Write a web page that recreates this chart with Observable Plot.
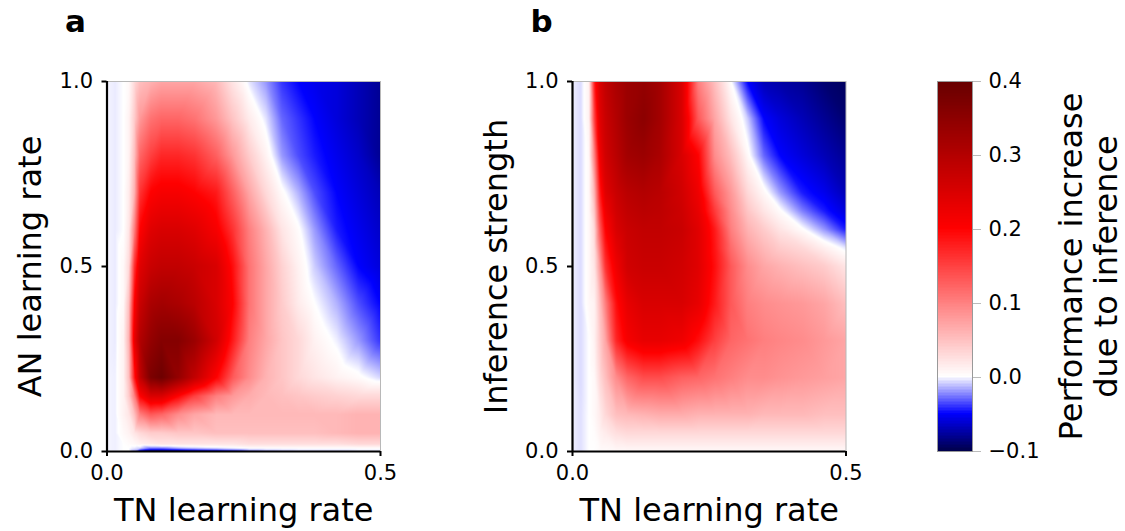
<!doctype html>
<html><head><meta charset="utf-8">
<script src="https://cdn.jsdelivr.net/npm/d3@7"></script>
<script src="https://cdn.jsdelivr.net/npm/@observablehq/plot@0.6"></script>
<style>
html,body{margin:0;padding:0;background:#fff;width:1125px;height:531px;overflow:hidden;font-family:"DejaVu Sans",sans-serif}
#root{position:relative;width:1125px;height:531px}
#root svg{position:absolute;top:0;overflow:visible;background:transparent}
</style></head><body><div id="root"></div>
<script>
const tnRates = [0,.015,.03,.04,.05,.06,.08,.1,.13,.16,.2,.23,.26,.29,.32,.35,.38,.42,.46,.5];
const anRates = [1,.9,.8,.7,.6,.5,.4,.3,.2,.15,.1,.05,.02,.008,0];
const anGrid = [
[-.002,-.004,0,.005,.03,.05,.06,.07,.07,.07,.055,.02,-.005,-.02,-.04,-.05,-.055,-.06,-.07,-.08],
[-.002,-.004,0,.01,.04,.08,.11,.12,.12,.11,.08,.045,.015,-.005,-.03,-.04,-.05,-.06,-.07,-.08],
[-.002,-.004,0,.01,.05,.12,.15,.17,.17,.16,.125,.08,.04,.01,-.02,-.035,-.045,-.055,-.065,-.08],
[-.002,-.004,0,.015,.06,.16,.2,.21,.21,.2,.18,.125,.07,.03,.003,-.015,-.035,-.05,-.06,-.07],
[-.002,-.004,0,.02,.1,.2,.24,.25,.25,.24,.21,.16,.1,.06,.02,.002,-.02,-.045,-.055,-.065],
[-.002,-.004,.005,.03,.16,.24,.27,.28,.28,.27,.25,.19,.11,.07,.035,.01,-.01,-.03,-.05,-.06],
[-.002,-.004,.005,.05,.2,.27,.31,.32,.31,.29,.25,.2,.11,.07,.04,.015,0,-.015,-.035,-.05],
[-.002,-.004,.01,.06,.23,.3,.34,.36,.36,.33,.26,.18,.1,.07,.045,.03,.01,-.003,-.02,-.04],
[-.002,-.003,.01,.05,.18,.28,.37,.39,.34,.28,.2,.13,.09,.06,.045,.03,.02,.01,.003,-.008],
[-.002,-.003,.01,.04,.1,.2,.25,.25,.2,.15,.1,.08,.065,.055,.05,.045,.04,.035,.03,.03],
[-.002,-.003,.01,.02,.05,.1,.13,.12,.09,.07,.055,.055,.055,.055,.055,.055,.055,.055,.06,.06],
[-.002,-.003,.005,.01,.02,.03,.04,.04,.045,.045,.05,.05,.05,.05,.05,.05,.05,.055,.06,.06],
[-.002,-.003,0,.003,.005,.01,.015,.02,.02,.02,.02,.02,.025,.025,.025,.025,.025,.025,.03,.03],
[-.002,-.003,0,0,-.005,-.01,-.03,-.03,-.02,-.015,-.01,-.005,0,0,0,0,0,0,0,0],
[-.002,-.003,0,0,-.02,-.06,-.09,-.09,-.08,-.07,-.06,-.05,-.03,-.02,-.015,-.01,-.01,-.01,-.005,-.005]
];
const inferenceLevels = [1,.9,.8,.7,.65,.6,.55,.5,.4,.3,.2,.1,.05,0];
const infGrid = [
[-.003,-.007,.01,.18,.25,.28,.31,.33,.34,.32,.25,.1,.05,0,-.05,-.07,-.075,-.08,-.09,-.095],
[-.003,-.007,.01,.15,.24,.27,.3,.33,.35,.32,.25,.13,.07,.02,-.01,-.05,-.06,-.07,-.08,-.09],
[-.003,-.007,.005,.1,.22,.26,.29,.32,.33,.31,.25,.2,.09,.05,.005,-.03,-.05,-.06,-.07,-.08],
[-.003,-.007,.005,.06,.18,.24,.27,.29,.3,.29,.26,.22,.13,.08,.03,.005,-.02,-.045,-.055,-.07],
[-.003,-.007,.005,.045,.155,.22,.26,.28,.29,.285,.265,.23,.155,.09,.045,.02,.002,-.025,-.045,-.06],
[-.003,-.007,.005,.03,.13,.2,.25,.27,.28,.28,.27,.24,.18,.1,.06,.04,.02,.002,-.02,-.045],
[-.003,-.007,.005,.025,.105,.18,.235,.265,.275,.275,.265,.24,.185,.115,.075,.055,.04,.03,.012,-.005],
[-.003,-.007,.005,.02,.08,.16,.22,.26,.27,.27,.26,.24,.19,.13,.09,.07,.06,.05,.04,.02],
[-.003,-.007,.005,.01,.05,.1,.19,.23,.25,.25,.25,.23,.18,.13,.1,.09,.085,.08,.07,.05],
[-.003,-.007,0,.01,.04,.07,.17,.21,.23,.23,.22,.19,.15,.12,.11,.1,.095,.09,.08,.07],
[-.003,-.007,0,.005,.03,.05,.09,.12,.14,.14,.125,.12,.11,.1,.09,.09,.085,.08,.075,.07],
[-.003,-.006,0,.005,.015,.03,.05,.055,.06,.065,.065,.06,.06,.06,.06,.055,.055,.055,.05,.05],
[-.003,-.006,0,.002,.01,.015,.025,.03,.03,.03,.03,.03,.03,.03,.03,.03,.03,.03,.03,.03],
[-.003,-.006,0,0,.003,.003,.005,.005,.005,.005,.005,.005,.005,.005,.005,.005,.005,.005,.005,.005]
];
const colorStops = [-.1,-.05,0,.2,.4];
const colorRange = ["#00004c","#0000ff","#ffffff","#ff0000","#660000"];
const colorbarTicks = [-.1,0,.1,.2,.3,.4];
const colorbarTitle = ["Performance increase","due to inference"];
const FONT = "DejaVu Sans";
const color = {type:"linear",domain:colorStops,range:colorRange,interpolate:"rgb",clamp:true};

function flatten(rows, grid){
  return rows.flatMap((y,i)=>tnRates.map((x,j)=>({x,y,v:grid[i][j]})));
}
function panel({letter,left,ml,ylabel,rows,grid,yTicks}){
  const w = 500;
  const svg = Plot.plot({
    width:w,height:531,marginLeft:ml,marginRight:w-ml-273.5,marginTop:81,marginBottom:80,
    style:{fontFamily:FONT,background:"transparent",overflow:"visible"},
    x:{domain:[0,.5]},y:{domain:[0,1]},color,
    marks:[
      Plot.raster(flatten(rows,grid),{x:"x",y:"y",fill:"v",x1:0,x2:.5,y1:0,y2:1,interpolate:"barycentric",pixelSize:1}),
      Plot.frame({stroke:"#b8b8b8",strokeWidth:1}),
      Plot.ruleX([0],{stroke:"#000",strokeWidth:2.2}),
      Plot.ruleY([0],{stroke:"#000",strokeWidth:2.2}),
      Plot.axisX({ticks:[0,.5],tickFormat:d3.format(".1f"),tickSize:5,tickPadding:9,fontSize:21,label:null,strokeWidth:2,stroke:"#000",fill:"#000"}),
      Plot.axisY({ticks:yTicks,tickFormat:d3.format(".1f"),tickSize:5,tickPadding:9,fontSize:21,label:null,strokeWidth:2,stroke:"#000",fill:"#000"}),
      Plot.text(["TN learning rate"],{frameAnchor:"bottom",fontSize:32,fill:"#000",dy:69,lineAnchor:"bottom"}),
      Plot.text([ylabel],{frameAnchor:"left",textAnchor:"middle",rotate:-90,fontSize:32,fill:"#000",dx:-76}),
      Plot.text([letter],{frameAnchor:"top-left",fontSize:31,fontWeight:"bold",fill:"#000",dx:-42,dy:-72,textAnchor:"start",lineAnchor:"top"})
    ]
  });
  svg.style.left = left+"px";
  document.getElementById("root").append(svg);
}
panel({letter:"a",left:0,ml:106.5,ylabel:"AN learning rate",rows:anRates,grid:anGrid,yTicks:[0,.5,1]});
panel({letter:"b",left:466,ml:106,ylabel:"Inference strength",rows:inferenceLevels,grid:infGrid,yTicks:[0,.5,1]});

const bar = Plot.plot({
  width:295,height:531,marginLeft:107,marginRight:153,marginTop:81,marginBottom:80,
  style:{fontFamily:FONT,background:"transparent",overflow:"visible"},
  x:{domain:[0,1],axis:null},y:{domain:[-.1,.4]},color,
  marks:[
    Plot.rectY(d3.range(-.1,.4,.002),{x1:0,x2:1,y1:d=>d,y2:d=>d+.0022,fill:d=>d,shapeRendering:"crispEdges"}),
    Plot.frame({stroke:"#999",strokeWidth:1}),
    Plot.axisY({anchor:"right",ticks:colorbarTicks,tickFormat:d=>d3.format(".1f")(d).replace("-","\u2212"),tickSize:8,tickPadding:8,fontSize:21,label:null,stroke:"#bbb",strokeWidth:1,fill:"#000"}),
    Plot.text([colorbarTitle[0]],{frameAnchor:"right",textAnchor:"middle",rotate:-90,fontSize:32,fill:"#000",dx:99}),
    Plot.text([colorbarTitle[1]],{frameAnchor:"right",textAnchor:"middle",rotate:-90,fontSize:32,fill:"#000",dx:134})
  ]
});
bar.style.left = "830px";
document.getElementById("root").append(bar);
</script></body></html>
